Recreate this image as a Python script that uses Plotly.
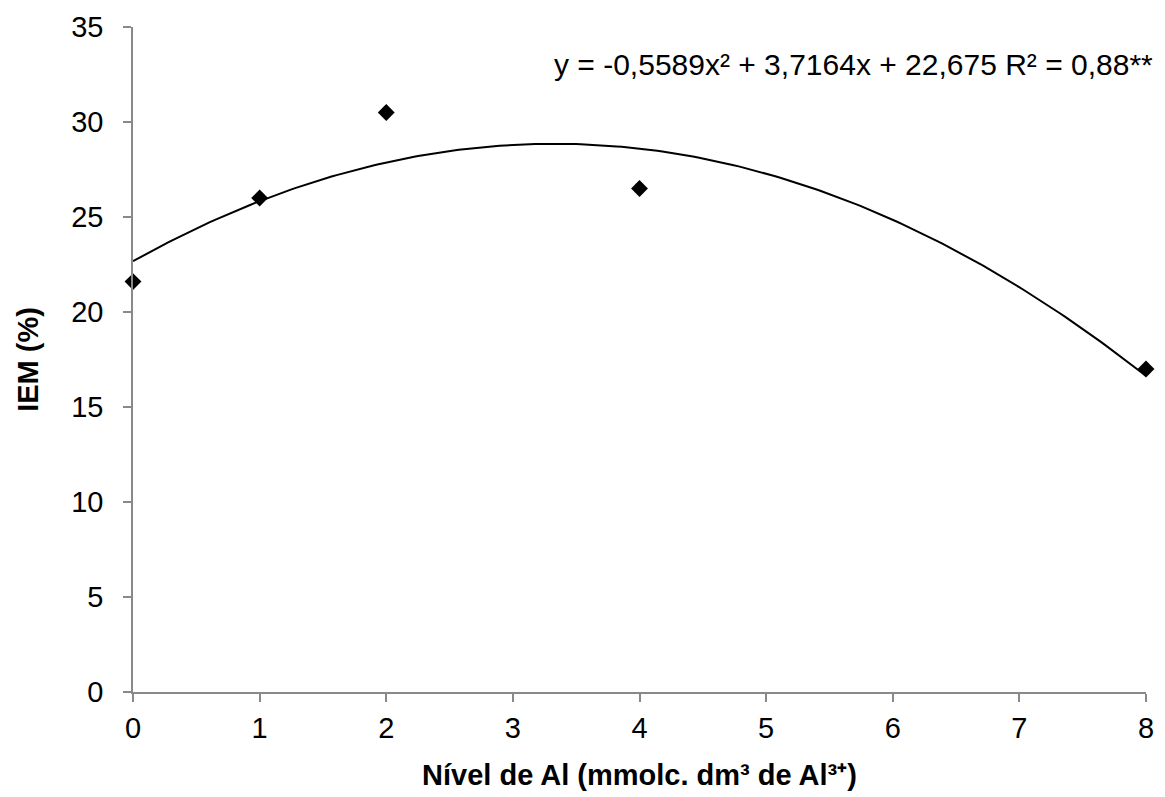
import numpy as np
import plotly.graph_objects as go

# Data
x_levels = [0, 1, 2, 4, 8]
iem_values = [21.6, 26.0, 30.5, 26.5, 17.0]

# Trendline coefficients shown in the chart (a*x^2 + b*x + c)
trend_coefs = [-0.5589, 3.7164, 22.675]
equation_text = "y = -0,5589x² + 3,7164x + 22,675 R² = 0,88**"

x_tick_vals = [0, 1, 2, 3, 4, 5, 6, 7, 8]
y_tick_vals = [0, 5, 10, 15, 20, 25, 30, 35]

x_title = "Nível de Al (mmolc. dm³ de Al³⁺)"
y_title = "IEM (%)"

xs = np.linspace(0, 8, 200)
ys = np.polyval(trend_coefs, xs)

FONT = "Liberation Sans, Arial, sans-serif"
AXIS_COLOR = "#898989"
FS = 29

fig = go.Figure()
fig.add_trace(go.Scatter(x=xs, y=ys, mode="lines",
                         line=dict(color="black", width=2),
                         showlegend=False, hoverinfo="skip", cliponaxis=False))
fig.add_trace(go.Scatter(x=x_levels, y=iem_values, mode="markers",
                         marker=dict(symbol="diamond", size=13, color="black"),
                         showlegend=False, cliponaxis=False))

fig.update_layout(
    width=1165, height=797,
    margin=dict(l=133, r=11, t=27, b=104),
    paper_bgcolor="white", plot_bgcolor="white",
    font=dict(family=FONT, size=FS, color="black"),
    xaxis=dict(range=[0, 8], tickvals=x_tick_vals, showgrid=False, zeroline=False,
               showline=True, linecolor=AXIS_COLOR, linewidth=1.5,
               ticks="outside", ticklen=8, tickcolor=AXIS_COLOR, tickwidth=1.5,
               ticklabelstandoff=1,
               tickfont=dict(size=FS, family=FONT, color="black"),
               title=dict(text="<b>" + x_title + "</b>", standoff=22,
                          font=dict(size=FS, family=FONT, color="black"))),
    yaxis=dict(range=[0, 35], tickvals=y_tick_vals, showgrid=False, zeroline=False,
               showline=True, linecolor=AXIS_COLOR, linewidth=1.5,
               ticks="outside", ticklen=8, tickcolor=AXIS_COLOR, tickwidth=1.5,
               ticklabelstandoff=14,
               tickfont=dict(size=FS, family=FONT, color="black"),
               title=dict(text="<b>" + y_title + "</b>", standoff=24,
                          font=dict(size=FS, family=FONT, color="black"))),
)

fig.add_annotation(text=equation_text, xref="paper", yref="paper",
                   x=1.009, y=0.943, xanchor="right", yanchor="middle",
                   showarrow=False, font=dict(size=30, family=FONT, color="black"))

fig.write_html("out.html")
